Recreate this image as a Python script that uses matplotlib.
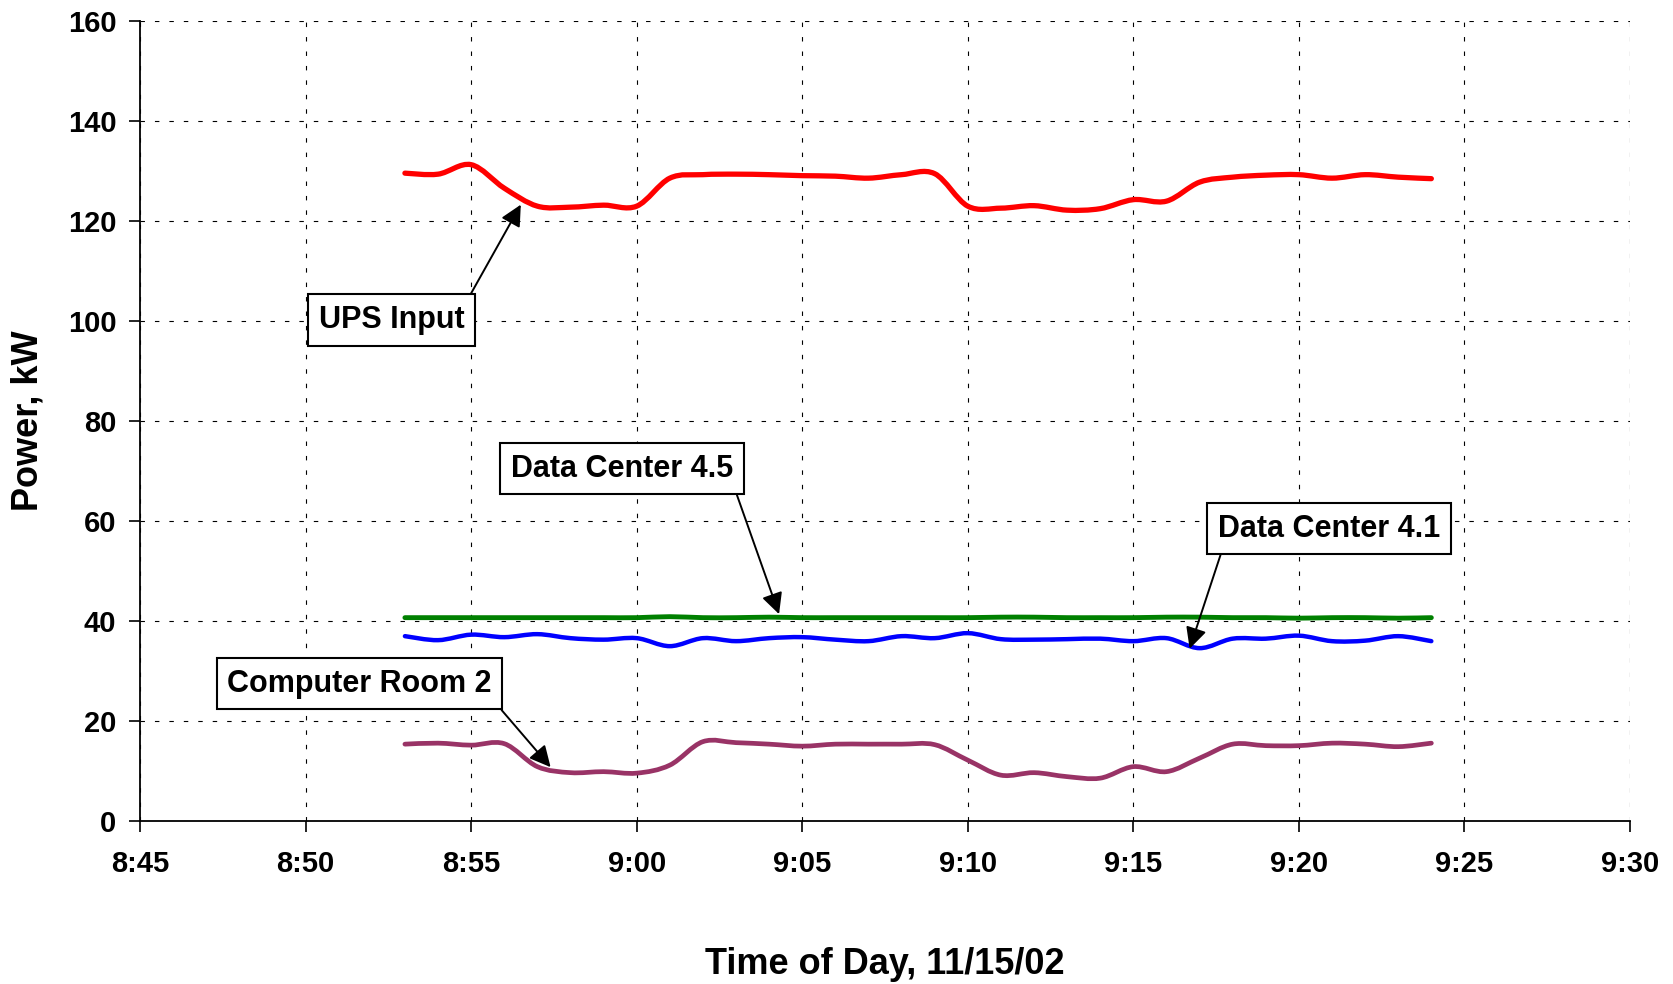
import numpy as np
import matplotlib
matplotlib.use('Agg')
import matplotlib.pyplot as plt
from matplotlib.path import Path
from matplotlib.patches import PathPatch

plt.rcParams['font.family'] = ['Liberation Sans', 'DejaVu Sans']
plt.rcParams['font.weight'] = 'bold'

# one reading per minute, 8:53 .. 9:24
times = ['8:53', '8:54', '8:55', '8:56', '8:57', '8:58', '8:59', '9:00',
         '9:01', '9:02', '9:03', '9:04', '9:05', '9:06', '9:07', '9:08', '9:09',
         '9:10', '9:11', '9:12', '9:13', '9:14', '9:15', '9:16', '9:17', '9:18',
         '9:19', '9:20', '9:21', '9:22', '9:23', '9:24']

ups_input = [129.5, 129.3, 131.2, 126.5, 122.9, 122.7, 123.1, 122.9,
             128.5, 129.2, 129.3, 129.2, 129.0, 128.9, 128.5, 129.2, 129.4,
             122.9, 122.5, 123.0, 122.1, 122.4, 124.2, 123.9, 127.7, 128.7,
             129.1, 129.2, 128.5, 129.2, 128.7, 128.4]

dc_45 = [40.6, 40.6, 40.6, 40.6, 40.6, 40.6, 40.6, 40.6,
         40.8, 40.6, 40.6, 40.7, 40.6, 40.6, 40.6, 40.6, 40.6,
         40.6, 40.7, 40.7, 40.6, 40.6, 40.6, 40.7, 40.7, 40.6,
         40.6, 40.5, 40.6, 40.6, 40.5, 40.6]

dc_41 = [36.9, 36.1, 37.2, 36.7, 37.3, 36.5, 36.2, 36.5,
         34.9, 36.5, 35.9, 36.5, 36.7, 36.2, 35.9, 36.9, 36.5,
         37.5, 36.3, 36.2, 36.3, 36.4, 35.9, 36.5, 34.5, 36.4,
         36.4, 37.0, 35.9, 36.0, 36.9, 35.9]

room_2 = [15.3, 15.5, 15.1, 15.4, 10.8, 9.6, 9.8, 9.5,
          11.1, 15.8, 15.6, 15.3, 14.9, 15.3, 15.3, 15.3, 15.2,
          12.1, 9.1, 9.6, 8.8, 8.5, 10.8, 9.8, 12.5, 15.3,
          15.0, 15.0, 15.5, 15.3, 14.8, 15.5]

tick_labels = ['8:45', '8:50', '8:55', '9:00', '9:05', '9:10', '9:15', '9:20', '9:25', '9:30']


def to_min(t):
    h, m = t.split(':')
    return int(h) * 60 + int(m)


t0 = to_min('8:45')
x = np.array([to_min(t) - t0 for t in times], dtype=float)


def smooth_line(ax, xs, ys, color, lw):
    # Excel style smoothed line: Catmull-Rom segments drawn as cubic Beziers
    pts = np.column_stack([xs, ys])
    p = np.vstack([pts[0], pts, pts[-1]])
    verts = [tuple(pts[0])]
    codes = [Path.MOVETO]
    for i in range(1, len(p) - 2):
        c1 = p[i] + (p[i + 1] - p[i - 1]) / 6.0
        c2 = p[i + 1] - (p[i + 2] - p[i]) / 6.0
        verts += [tuple(c1), tuple(c2), tuple(p[i + 1])]
        codes += [Path.CURVE4] * 3
    patch = PathPatch(Path(verts, codes), fill=False, edgecolor=color, lw=lw,
                      capstyle='round', joinstyle='round', zorder=3)
    ax.add_patch(patch)


fig, ax = plt.subplots(figsize=(16.73, 9.84), dpi=100)
fig.subplots_adjust(left=0.0837, right=0.9743, top=0.979, bottom=0.166)

smooth_line(ax, x, ups_input, '#FF0000', 3.8)
smooth_line(ax, x, dc_45, '#008000', 3.5)
smooth_line(ax, x, dc_41, '#0000FF', 3.2)
smooth_line(ax, x, room_2, '#993366', 3.4)

ax.set_xlim(0, 45)
ax.set_ylim(0, 160)
ax.set_xticks(np.arange(0, 46, 5))
ax.set_xticklabels(tick_labels)
ax.set_yticks(np.arange(0, 161, 20))

ax.grid(True, color='black', linestyle=(0, (4, 9)), lw=0.8)
for s in ['top', 'right']:
    ax.spines[s].set_visible(False)
for s in ['left', 'bottom']:
    ax.spines[s].set_linewidth(1.3)
ax.tick_params(axis='both', direction='out', length=8, width=1.2, labelsize=21)
ax.tick_params(axis='x', pad=13)
ax.tick_params(axis='y', pad=9)

ax.set_xlabel('Time of Day, 11/15/02', fontsize=26, fontweight='bold', labelpad=50)
ax.set_ylabel('Power, kW', fontsize=26, fontweight='bold', labelpad=16)

box = dict(boxstyle='square,pad=0.35', fc='white', ec='black', lw=1.5)
arrow = dict(arrowstyle='-|>', color='black', lw=1.4, mutation_scale=32, shrinkA=0, shrinkB=0)

notes = [
    ('UPS Input', (11.5, 123.2), (7.6, 100.1), (1, 1)),
    ('Data Center 4.5', (19.3, 41.3), (14.55, 70.4), (1, 0)),
    ('Data Center 4.1', (31.7, 34.4), (35.9, 58.4), (0.03, 0)),
    ('Computer Room 2', (12.4, 10.7), (6.63, 27.4), (1, 0)),
]
for label, tip, pos, rp in notes:
    ap = dict(arrow, relpos=rp)
    ax.annotate(label, xy=tip, xytext=pos, ha='center', va='center',
                fontsize=22, fontweight='bold', bbox=box, arrowprops=ap, zorder=5)

plt.savefig('out.png', dpi=100)
